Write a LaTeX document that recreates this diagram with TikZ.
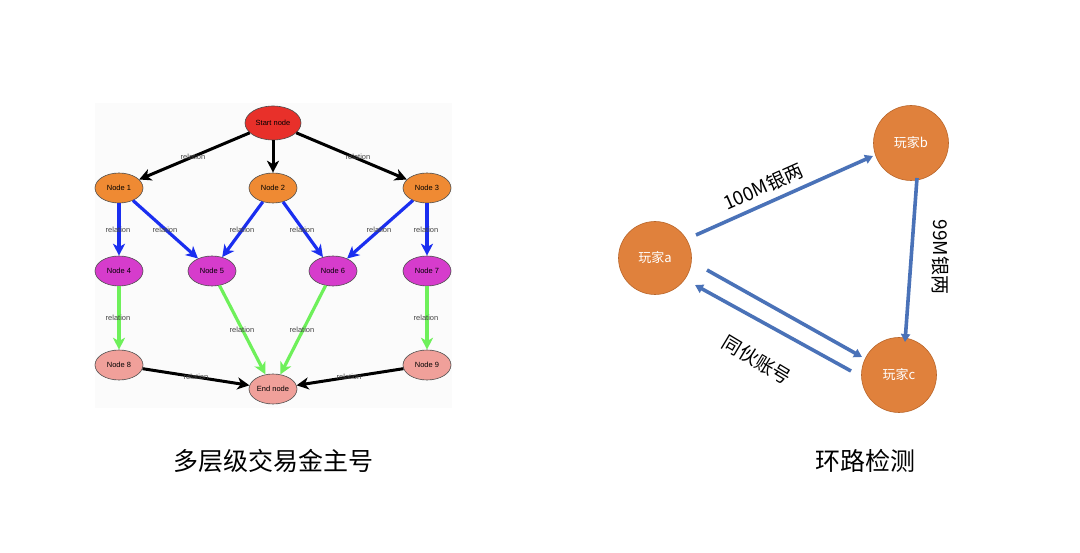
\documentclass[tikz,border=0pt]{standalone}
\usepackage{fontspec}
\setmainfont{Liberation Sans}
\newfontfamily\cjk{Noto Sans CJK SC}
\usetikzlibrary{arrows.meta,shapes.geometric}
\definecolor{startred}{HTML}{E8302A}
\definecolor{orangeN}{HTML}{EF8A33}
\definecolor{magN}{HTML}{D63CCC}
\definecolor{pinkN}{HTML}{F0A09A}
\definecolor{blueE}{HTML}{1A2EF0}
\definecolor{greenE}{HTML}{6EF05A}
\definecolor{player}{HTML}{E0813C}
\definecolor{playerB}{HTML}{B8652A}
\definecolor{arrowB}{HTML}{4A72B8}
\definecolor{labelG}{HTML}{444444}
\definecolor{panel}{HTML}{FBFBFB}
\begin{document}
\begin{tikzpicture}[x=1pt,y=-1pt,
  gnode/.style={ellipse,draw=black!70,line width=0.6pt,minimum width=48pt,minimum height=30pt,inner sep=0pt,font=\fontsize{7.5}{8}\selectfont},
  blk/.style={line width=3pt,black,-{Stealth[length=12pt,width=12pt,inset=3.5pt]}},
  blu/.style={line width=3.2pt,blueE,-{Stealth[length=12pt,width=12pt,inset=3.5pt]}},
  grn/.style={line width=3.2pt,greenE,-{Stealth[length=12pt,width=12pt,inset=3.5pt]}},
  rel/.style={font=\fontsize{7.5}{8}\selectfont,text=labelG,inner sep=0pt},
  pnode/.style={circle,fill=player,draw=playerB,line width=0.6pt,minimum size=75pt,inner sep=0pt,text=white,font=\cjk\fontsize{13}{14}\selectfont},
  parr/.style={line width=3.6pt,arrowB,-{Triangle[length=8pt,width=9pt]}},
  plab/.style={font=\cjk\fontsize{19}{20}\selectfont,inner sep=0pt},
  title/.style={font=\cjk\fontsize{25}{26}\selectfont,inner sep=0pt}]
\useasboundingbox (0,0) rectangle (1080,553);
\fill[white] (0,0) rectangle (1080,553);
\fill[panel] (95,103) rectangle (452,408);
% left graph nodes
\node[gnode,fill=startred,minimum width=56pt,minimum height=34pt] (s) at (273,123) {Start node};
\node[gnode,fill=orangeN] (n1) at (119,188) {Node 1};
\node[gnode,fill=orangeN] (n2) at (273,188) {Node 2};
\node[gnode,fill=orangeN] (n3) at (427,188) {Node 3};
\node[gnode,fill=magN] (n4) at (119,271) {Node 4};
\node[gnode,fill=magN] (n5) at (212,271) {Node 5};
\node[gnode,fill=magN] (n6) at (333,271) {Node 6};
\node[gnode,fill=magN] (n7) at (427,271) {Node 7};
\node[gnode,fill=pinkN] (n8) at (119,365) {Node 8};
\node[gnode,fill=pinkN] (e) at (273,389) {End node};
\node[gnode,fill=pinkN] (n9) at (427,365) {Node 9};
% edges
\draw[blk] (s) -- (n1);
\draw[blk] (s) -- (n2);
\draw[blk] (s) -- (n3);
\draw[blu] (n1) -- (n4);
\draw[blu] (n1) -- (n5);
\draw[blu] (n2) -- (n5);
\draw[blu] (n2) -- (n6);
\draw[blu] (n3) -- (n6);
\draw[blu] (n3) -- (n7);
\draw[grn] (n4) -- (n8);
\draw[grn] (n5) -- (e);
\draw[grn] (n6) -- (e);
\draw[grn] (n7) -- (n9);
\draw[blk] (n8) -- (e);
\draw[blk] (n9) -- (e);
% labels
\node[rel] (r1) at (193,157) {relation};
\node[rel] (r2) at (358,157) {relation};
\node[rel] (r3) at (118,230) {relation};
\node[rel] (r4) at (165,230) {relation};
\node[rel] (r5) at (242,230) {relation};
\node[rel] (r6) at (302,230) {relation};
\node[rel] (r7) at (379,230) {relation};
\node[rel] (r8) at (426,230) {relation};
\node[rel] (r9) at (118,318) {relation};
\node[rel] (r10) at (242,330) {relation};
\node[rel] (r11) at (302,330) {relation};
\node[rel] (r12) at (426,318) {relation};
\node[rel] (r13) at (196,377) {relation};
\node[rel] (r14) at (349,377) {relation};
% right graph
\node[pnode,minimum size=73pt] (a) at (655,258) {玩家a};
\node[pnode] (b) at (911,143) {玩家b};
\node[pnode] (c) at (899,375) {玩家c};
\coordinate (a1) at (696,235);
\coordinate (b1) at (873,156);
\coordinate (b2) at (917,178);
\coordinate (c2) at (905,342);
\coordinate (a3) at (707,270);
\coordinate (c3) at (862,357);
\coordinate (c4) at (851,371);
\coordinate (a4) at (695,285);
\draw[parr] (a1) -- (b1);
\draw[parr] (b2) -- (c2);
\draw[parr] (a3) -- (c3);
\draw[parr] (c4) -- (a4);
\node[plab,rotate=24] (l1) at (763,187) {100M银两};
\node[plab,rotate=-90] (l2) at (941,257) {99M银两};
\node[plab,rotate=-31] (l3) at (757,360) {同伙账号};
% titles
\node[title] (t1) at (273,461) {多层级交易金主号};
\node[title] (t2) at (865,461) {环路检测};
\end{tikzpicture}
\end{document}
